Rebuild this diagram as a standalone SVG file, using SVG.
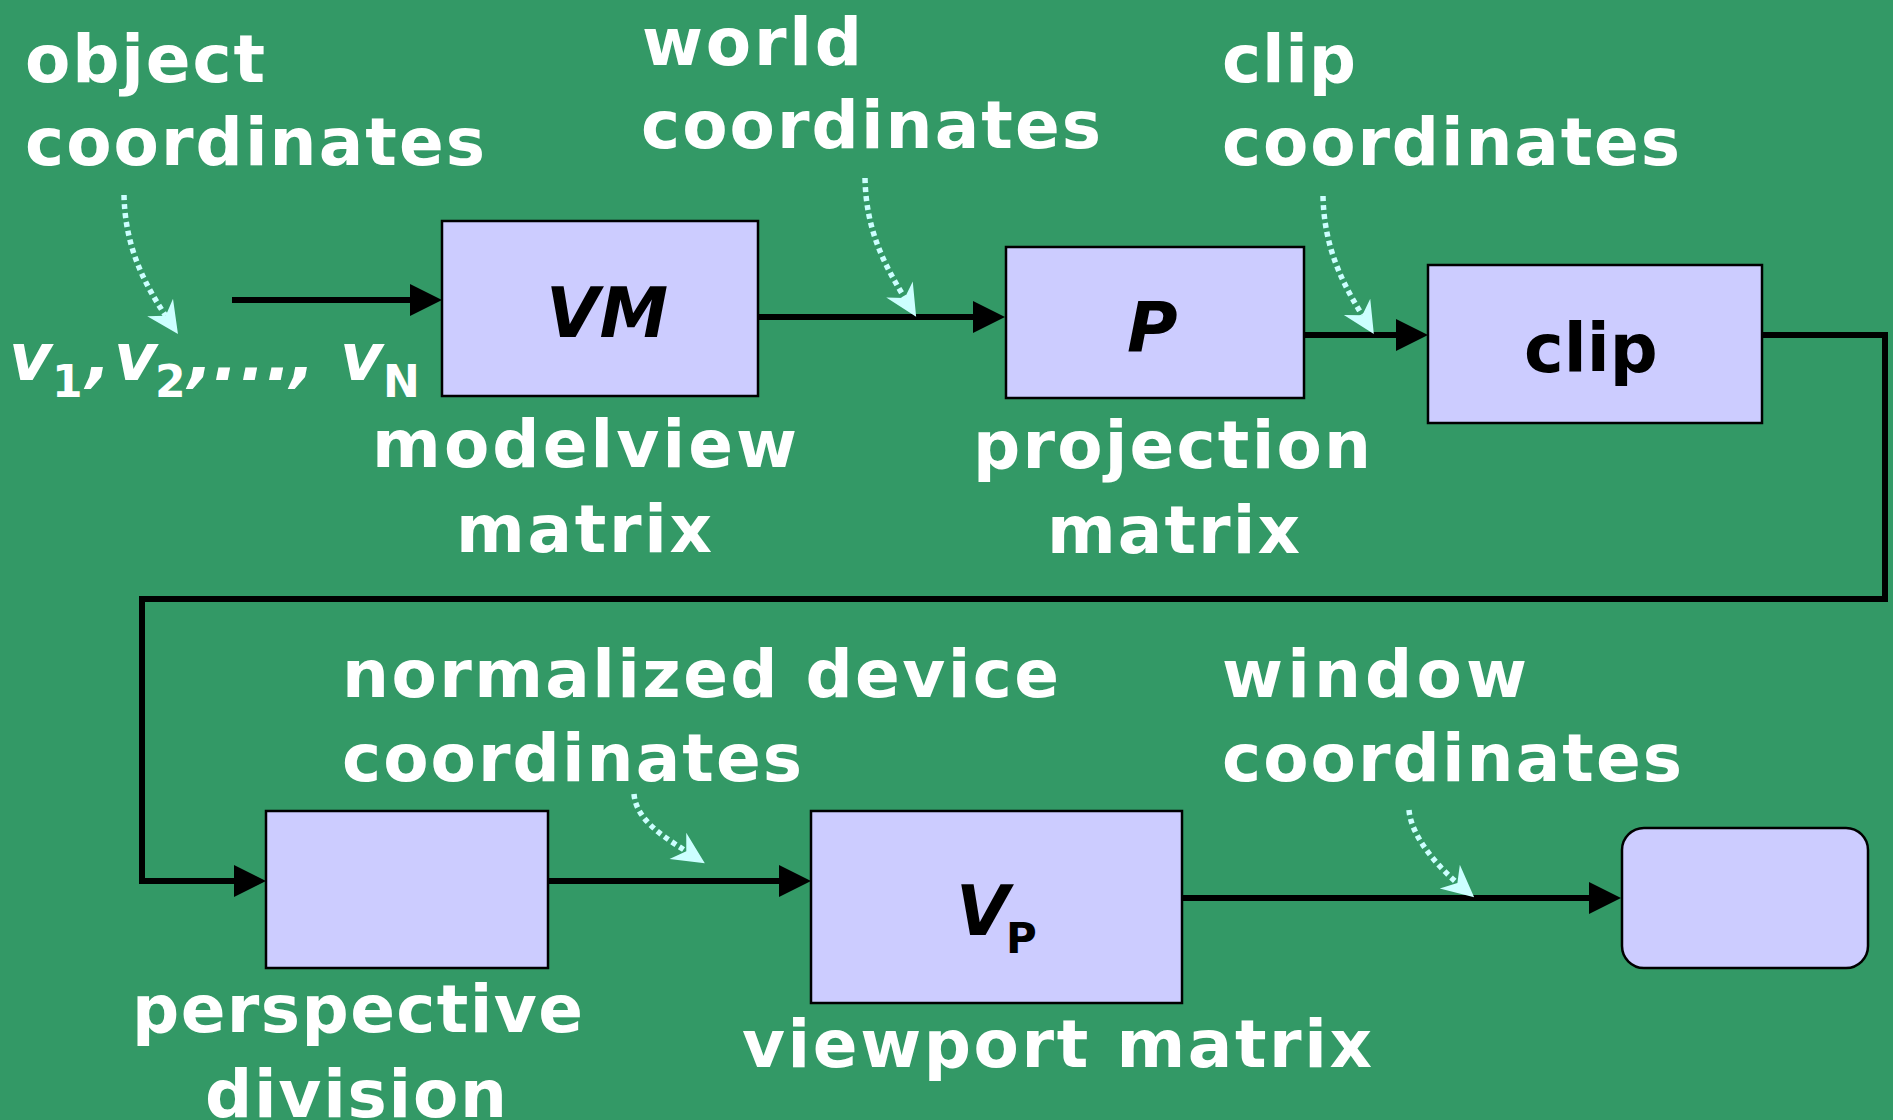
<svg xmlns="http://www.w3.org/2000/svg" width="1893" height="1120" viewBox="0 0 1893 1120">
  <style>
    .label { font-family: "DejaVu Sans", Verdana, sans-serif; font-weight: bold; font-size: 66px; fill: #ffffff; }
    .box { fill: #ccccff; stroke: #000000; stroke-width: 2.5; }
    .sym { font-family: "DejaVu Sans", Verdana, sans-serif; font-weight: bold; fill: #000000; }
    .ital { font-style: italic; }
    .flow { fill: none; stroke: #000000; stroke-width: 6; stroke-linejoin: miter; marker-end: url(#head); }
    .hint { fill: none; stroke: #ccffff; stroke-width: 5.5; stroke-dasharray: 5 4; marker-end: url(#dart); }
  </style>
  <defs>
    <marker id="head" markerUnits="userSpaceOnUse" viewBox="0 -16 32 32" refX="0" refY="0" markerWidth="32" markerHeight="32" orient="auto">
      <path d="M0,-16 L32,0 L0,16 Z" fill="#000000"/>
    </marker>
    <marker id="dart" markerUnits="userSpaceOnUse" viewBox="-12 -17 36 34" refX="0" refY="0" markerWidth="36" markerHeight="34" orient="auto">
      <path d="M22,0 L-10,-15.5 L0,0 L-10,15.5 Z" fill="#ccffff"/>
    </marker>
  </defs>

  <rect x="0" y="0" width="1893" height="1120" fill="#339966"/>

  <!-- pipeline stages -->
  <g id="node-modelview">
    <rect class="box" x="442" y="221" width="316" height="175"/>
    <text class="sym ital" x="546" y="337" font-size="69">VM</text>
  </g>
  <g id="node-projection">
    <rect class="box" x="1006" y="247" width="298" height="151"/>
    <text class="sym ital" x="1127" y="352" font-size="69">P</text>
  </g>
  <g id="node-clip">
    <rect class="box" x="1428" y="265" width="334" height="158"/>
    <text class="sym" x="1524" y="372" font-size="67">clip</text>
  </g>
  <g id="node-perspective">
    <rect class="box" x="266" y="811" width="282" height="157"/>
  </g>
  <g id="node-viewport">
    <rect class="box" x="811" y="811" width="371" height="192"/>
    <text class="sym" y="935"><tspan class="ital" x="956" font-size="69">V</tspan><tspan x="1006" y="953" font-size="42">P</tspan></text>
  </g>
  <g id="node-window">
    <rect class="box" x="1622" y="828" width="246" height="140" rx="22" ry="22"/>
  </g>

  <!-- vertex input -->
  <g id="vertices" class="label">
    <text y="380">
      <tspan class="ital" x="9" font-size="66">v</tspan><tspan x="52" y="397" font-size="44">1</tspan><tspan class="ital" x="86" y="380" font-size="66">,</tspan><tspan class="ital" x="114" font-size="66">v</tspan><tspan x="155" y="397" font-size="44">2</tspan><tspan class="ital" x="188 213 240 266 290" y="380" font-size="66">,...,</tspan><tspan class="ital" x="340" font-size="66">v</tspan><tspan x="383" y="397" font-size="44">N</tspan>
    </text>
  </g>

  <!-- stage and coordinate-space labels -->
  <g id="labels" class="label">
    <text x="25" y="82" textLength="240" lengthAdjust="spacing">object</text>
    <text x="25" y="165" textLength="460" lengthAdjust="spacing">coordinates</text>
    <text x="642" y="65" textLength="220" lengthAdjust="spacing">world</text>
    <text x="641" y="148" textLength="460" lengthAdjust="spacing">coordinates</text>
    <text x="1222" y="82" textLength="134" lengthAdjust="spacing">clip</text>
    <text x="1222" y="165" textLength="458" lengthAdjust="spacing">coordinates</text>
    <text x="372" y="467" textLength="425" lengthAdjust="spacing">modelview</text>
    <text x="456" y="552" textLength="256" lengthAdjust="spacing">matrix</text>
    <text x="973" y="468" textLength="398" lengthAdjust="spacing">projection</text>
    <text x="1047" y="553" textLength="253" lengthAdjust="spacing">matrix</text>
    <text x="342" y="697" textLength="717" lengthAdjust="spacing">normalized device</text>
    <text x="342" y="781" textLength="460" lengthAdjust="spacing">coordinates</text>
    <text x="1222" y="697" textLength="305" lengthAdjust="spacing">window</text>
    <text x="1222" y="781" textLength="460" lengthAdjust="spacing">coordinates</text>
    <text x="132" y="1032" textLength="451" lengthAdjust="spacing">perspective</text>
    <text x="205" y="1117" textLength="302" lengthAdjust="spacing">division</text>
    <text x="742" y="1067" textLength="630" lengthAdjust="spacing">viewport matrix</text>
  </g>

  <!-- connectors -->
  <g id="connectors">
    <path class="flow" d="M232,300 H410"/>
    <path class="flow" d="M758,317 H973"/>
    <path class="flow" d="M1304,335 H1396"/>
    <path class="flow" d="M1762,335 H1885 V599 H142 V881 H234"/>
    <path class="flow" d="M548,881 H779"/>
    <path class="flow" d="M1182,898 H1589"/>

    <path class="hint" d="M124,195 C125,245 143,282 165.7,315.8"/>
    <path class="hint" d="M865,178 C866,230 884,264 904.7,298"/>
    <path class="hint" d="M1323,196 C1324,248 1343,284 1362.3,315.3"/>
    <path class="hint" d="M634,794 C636,820 664,837 686.3,851.3"/>
    <path class="hint" d="M1409,810 C1411,835 1435,864 1457.4,883.1"/>
  </g>
</svg>
